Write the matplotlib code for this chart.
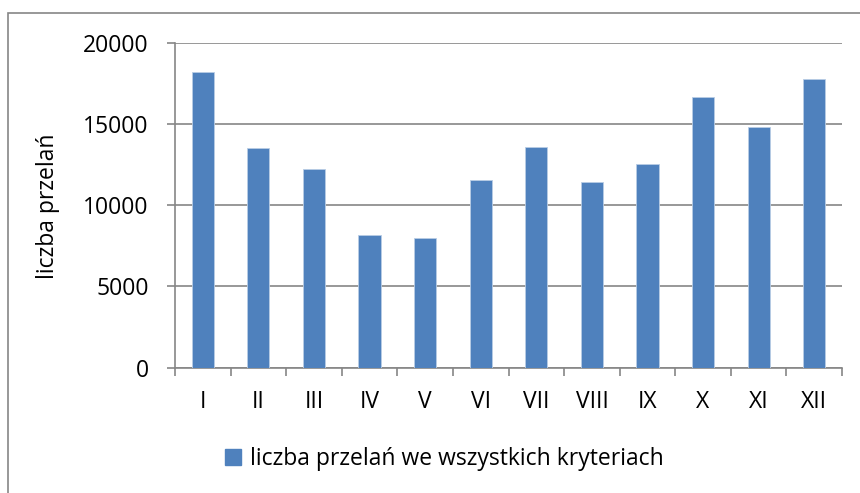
import matplotlib
matplotlib.use('Agg')
import matplotlib.pyplot as plt
from matplotlib.patches import Rectangle, Patch

months = ['I', 'II', 'III', 'IV', 'V', 'VI', 'VII', 'VIII', 'IX', 'X', 'XI', 'XII']
transfers = [18200, 13500, 12230, 8170, 7960, 11530, 13580, 11450, 12520, 16680, 14810, 17790]
y_ticks = [0, 5000, 10000, 15000, 20000]

plt.rcParams['font.family'] = ['Open Sans', 'DejaVu Sans']
FS = 16.5

W, H = 860, 493
fig = plt.figure(figsize=(W / 100, H / 100), dpi=100)

# chart frame (runs off the right and bottom edges)
fig.patches.append(Rectangle((8 / W, -0.1), 1.2, 1 - 13 / H + 0.1,
                             transform=fig.transFigure, fill=False,
                             edgecolor='#868686', linewidth=1.2))

left, right, top, bottom = 175, 842, 42.7, 367.7
ax = fig.add_axes([left / W, 1 - bottom / H, (right - left) / W, (bottom - top) / H])

x = range(len(months))
ax.bar(x, transfers, width=0.4, color='#4F81BD', edgecolor='#B9CDE5',
       linewidth=0.6, zorder=3)

ax.set_xlim(-0.5, len(months) - 0.5)
ax.set_ylim(0, 20000)
ax.set_yticks(y_ticks)
ax.set_yticklabels([str(v) for v in y_ticks], fontsize=FS)
ax.set_xticks(x)
ax.set_xticklabels(months, fontsize=FS)
ax.set_xticks([i - 0.5 for i in range(len(months) + 1)], minor=True)
ax.tick_params(axis='x', which='major', length=0, pad=16)
ax.tick_params(axis='x', which='minor', length=6, width=1.2, color='#868686')
ax.tick_params(axis='y', length=6, width=1.2, color='#868686', pad=13)

ax.grid(axis='y', color='#868686', linewidth=1.2, zorder=0)
for side in ['top', 'right']:
    ax.spines[side].set_visible(False)
for side in ['left', 'bottom']:
    ax.spines[side].set_color('#868686')
    ax.spines[side].set_linewidth(1.2)

fig.text(48 / W, 1 - 206 / H, 'liczba przelań', rotation=90, fontsize=FS,
         ha='center', va='center')

fig.legend(handles=[Patch(color='#4F81BD', label='liczba przelań we wszystkich kryteriach')],
           loc='center', bbox_to_anchor=(444 / W, 1 - 459 / H), frameon=False,
           fontsize=FS, handlelength=0.7, handleheight=0.7, handletextpad=0.4)

fig.savefig('out.png', dpi=100)
